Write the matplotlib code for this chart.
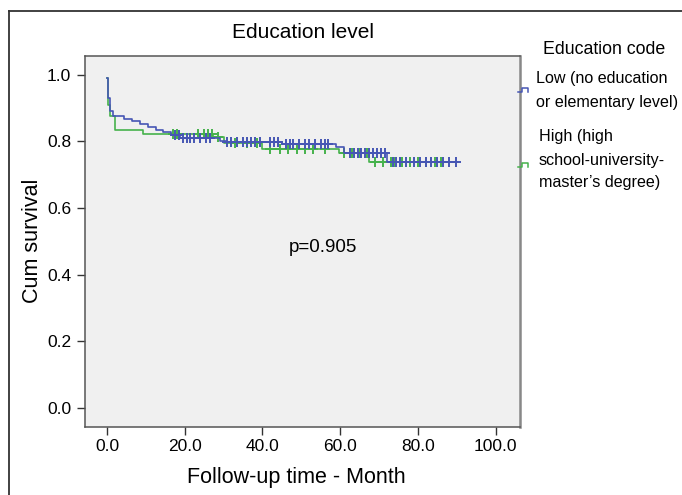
import matplotlib.pyplot as plt
import numpy as np
from matplotlib.lines import Line2D

plt.rcParams['font.family'] = ['Liberation Sans', 'DejaVu Sans']

# Kaplan-Meier steps (time in months, cumulative survival)
low_t = [0, 0.3, 0.7, 1.5, 4.5, 6.5, 8.5, 10.5, 12.5, 14.5, 16.5, 18.7, 29.0, 30.7, 45.0, 59.0, 61.0, 72.2]
low_s = [0.99, 0.93, 0.89, 0.876, 0.868, 0.860, 0.852, 0.843, 0.835, 0.827, 0.818, 0.810, 0.802, 0.797, 0.792, 0.782, 0.765, 0.737]
low_end = 90.0
low_cens = [17.5, 18.5, 19.5, 20.5, 21.5, 22.5, 24.0, 25.5, 26.5, 31.0, 32.0, 33.5, 35.0, 36.0,
            37.0, 38.0, 39.5, 42.0, 43.0, 44.0, 46.0, 47.0, 48.0, 49.5, 51.0, 52.0, 53.5, 55.0,
            56.0, 57.0, 62.5, 63.5, 64.5, 65.5, 66.5, 67.5, 68.5, 69.5, 70.5, 71.5, 73.5, 74.5,
            75.5, 77.0, 79.0, 80.5, 82.0, 83.5, 85.0, 86.5, 88.0, 89.8]

high_t = [0, 0.2, 0.8, 2.0, 9.2, 27.2, 30.0, 40.0, 59.8, 67.5]
high_s = [0.99, 0.91, 0.876, 0.835, 0.822, 0.812, 0.795, 0.776, 0.765, 0.737]
high_end = 89.8
high_cens = [17.0, 18.0, 23.5, 25.0, 26.0, 27.0, 28.5, 33.0, 36.0, 38.5, 42.0, 44.5, 46.5,
             49.0, 51.0, 53.0, 56.0, 61.0, 63.0, 65.0, 67.0, 69.0, 71.0, 73.0, 74.0, 76.0,
             78.0, 80.0, 82.0, 84.5, 86.0]

x_ticks = [0, 20, 40, 60, 80, 100]
y_ticks = [0.0, 0.2, 0.4, 0.6, 0.8, 1.0]

blue = '#4656b4'
green = '#46b24c'

W, H = 682, 495
fig = plt.figure(figsize=(W / 100, H / 100), dpi=100)
ax = fig.add_axes([85.2 / W, 1 - 426.7 / H, 434.4 / W, 371 / H])
ax.set_facecolor('#f0f0f0')


def km(ax, t, s, end, cens, color):
    tt = list(t) + [end]
    ss = list(s) + [s[-1]]
    ax.step(tt, ss, where='post', color=color, lw=1.2)
    idx = np.searchsorted(t, cens, side='right') - 1
    ax.plot(cens, np.array(s)[idx], ls='none', marker='+', ms=7, mew=1.4, color=color)


km(ax, high_t, high_s, high_end, high_cens, green)
km(ax, low_t, low_s, low_end, low_cens, blue)

ax.set_xlim(-5.6, 106.2)
ax.set_ylim(-0.056, 1.057)
ax.set_xticks(x_ticks)
ax.set_xticklabels(['%.1f' % v for v in x_ticks])
ax.set_yticks(y_ticks)
ax.set_yticklabels(['%.1f' % v for v in y_ticks])
ax.tick_params(labelsize=12.5, length=6, width=1, color='#333333', pad=3)
ax.tick_params(axis='y', length=6, pad=4)
for side in ['left', 'bottom', 'top']:
    ax.spines[side].set_color('#555555')
    ax.spines[side].set_linewidth(1.1)
ax.spines['right'].set_color('#888888')
ax.spines['right'].set_linewidth(1.8)

ax.set_xlabel('Follow-up time - Month', fontsize=15.5)
ax.xaxis.label.set_va('center')
ax.xaxis.set_label_coords(0.5 + (296.7 - 302.4) / 434.4, (426.7 - 477) / 371)
ax.set_ylabel('Cum survival', fontsize=15.5)
ax.yaxis.label.set_va('center')
ax.yaxis.set_label_coords((33 - 85.2) / 434.4, 0.5)

ax.text(55.7, 0.482, 'p=0.905', fontsize=13.5, ha='center', va='center')

fig.text(302.8 / W, 1 - 33 / H, 'Education level', fontsize=15, ha='center', va='center')

# legend on the right, outside the plot
fig.text(604 / W, 1 - 50 / H, 'Education code', fontsize=12.8, ha='center', va='center')
legend_lines = [
    (536, 78, 'Low (no education'),
    (536, 102, 'or elementary level)'),
    (539, 136, 'High (high'),
    (539, 160, 'school-university-'),
    (539, 183, "master\u2019s degree)"),
]
for lx, ly, txt in legend_lines:
    fig.text(lx / W, 1 - ly / H, txt, fontsize=11.6, ha='left', va='center')

for gy, col in [(90, blue), (165, green)]:
    px = np.array([518, 522, 522, 528, 528])
    py = np.array([gy + 2, gy + 2, gy - 2, gy - 2, gy + 2])
    fig.add_artist(Line2D(px / W, 1 - py / H, color=col, lw=1.1, transform=fig.transFigure))

# outer frame (top and left edges)
fig.add_artist(Line2D([9 / W, 1], [1 - 10.5 / H, 1 - 10.5 / H], color='#333333', lw=1.3,
                      transform=fig.transFigure))
fig.add_artist(Line2D([9 / W, 9 / W], [0, 1 - 10.5 / H], color='#333333', lw=1.3,
                      transform=fig.transFigure))

fig.savefig('out.png', dpi=100)
